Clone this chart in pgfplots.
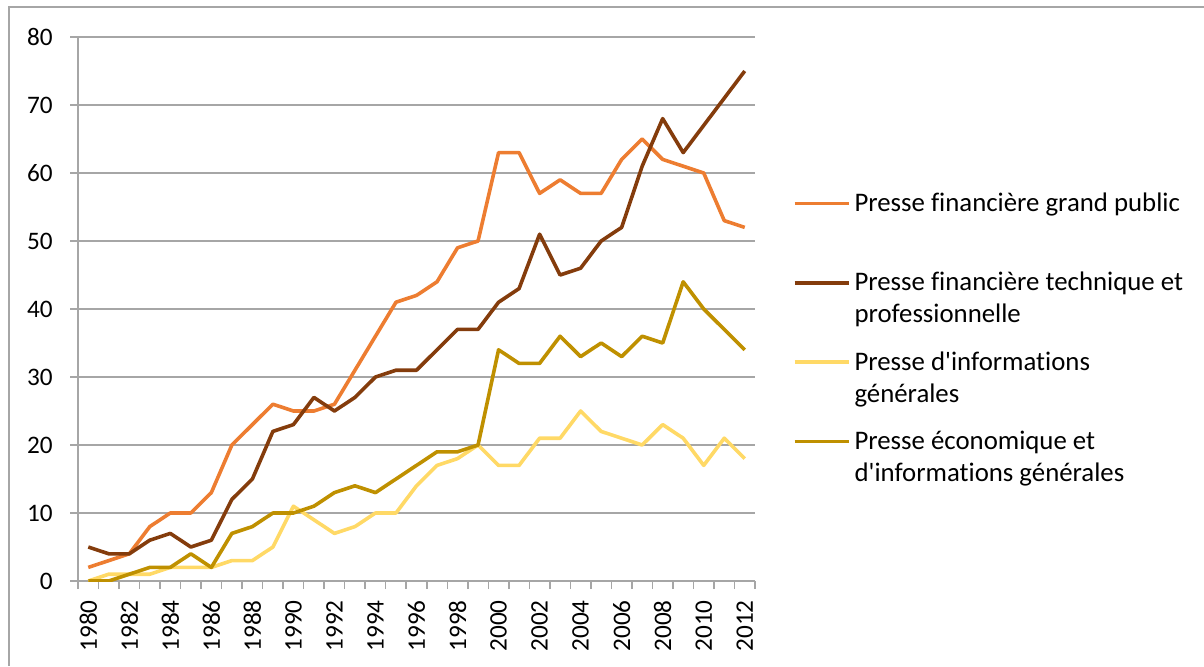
\documentclass[border=0pt]{standalone}
\usepackage{pgfplots}
\pgfplotsset{compat=1.18}
\usepackage{pgfplotstable}
\usepackage{fontspec}
\setmainfont{Carlito}
\newfontfamily\carlito{Carlito}[Ligatures=NoCommon]
\definecolor{cOrange}{HTML}{ED7D31}
\definecolor{cBrown}{HTML}{843C0C}
\definecolor{cYellow}{HTML}{FFD966}
\definecolor{cGold}{HTML}{BF9000}
\definecolor{cGrid}{HTML}{A6A6A6}
\definecolor{cFrame}{HTML}{A6A6A6}
\newcommand{\two}[2]{\vtop{\hbox{#1}\hbox{#2}}}

\pgfplotstableread{
year grand tech info eco
1980 2 5 0 0
1981 3 4 1 0
1982 4 4 1 1
1983 8 6 1 2
1984 10 7 2 2
1985 10 5 2 4
1986 13 6 2 2
1987 20 12 3 7
1988 23 15 3 8
1989 26 22 5 10
1990 25 23 11 10
1991 25 27 9 11
1992 26 25 7 13
1993 31 27 8 14
1994 36 30 10 13
1995 41 31 10 15
1996 42 31 14 17
1997 44 34 17 19
1998 49 37 18 19
1999 50 37 20 20
2000 63 41 17 34
2001 63 43 17 32
2002 57 51 21 32
2003 59 45 21 36
2004 57 46 25 33
2005 57 50 22 35
2006 62 52 21 33
2007 65 61 20 36
2008 62 68 23 35
2009 61 63 21 44
2010 60 67 17 40
2011 53 71 21 37
2012 52 75 18 34
}\datatable

\begin{document}
\carlito\fontsize{12.6}{16}\selectfont
\begin{tikzpicture}
\useasboundingbox (0,0) rectangle (602pt,333pt);
\draw[cFrame, line width=0.75pt] (4.5pt,0) -- (4.5pt,329.5pt) -- (602pt,329.5pt);
\begin{axis}[
  at={(39pt,42.5pt)}, anchor=south west,
  scale only axis,
  width=338.5pt, height=272pt,
  xmin=1979.5, xmax=2012.5,
  ymin=0, ymax=80,
  axis x line*=bottom, axis y line*=left,
  axis line style={-, draw=cGrid, line width=0.75pt},
  ytick={0,10,...,80},
  ymajorgrids,
  grid style={cGrid, line width=0.75pt},
  tick align=outside,
  major tick length=4pt,
  tick style={cGrid, line width=0.75pt},
  xtick={1979.5,1980.5,...,2012.5},
  xticklabels={},
  extra x ticks={1980,1982,...,2012},
  extra x tick labels={1980,1982,1984,1986,1988,1990,1992,1994,1996,1998,2000,2002,2004,2006,2008,2010,2012},
  extra x tick style={major tick length=0pt, tick style={draw=none},
     xticklabel style={yshift=-9.5pt, rotate=90, anchor=east, inner sep=0pt}},
  yticklabel style={anchor=east, inner sep=0pt, xshift=-8.5pt},
  /pgf/number format/assume math mode=true,
  /pgf/number format/1000 sep={},
  legend style={draw=none, fill=none, at={(1.056,0.721)}, anchor=north west,
     inner sep=0pt, outer sep=0pt, row sep=24.5pt, column sep=0pt,
     cells={anchor=base west, inner sep=0pt},
     font=\carlito\fontsize{13.4}{16}\selectfont},
  legend image code/.code={\draw[#1] (0pt,4pt) -- (27pt,4pt);},
  every axis plot/.append style={line width=1.8pt, line join=round},
]
\addplot[cOrange] table[x=year,y=grand] {\datatable};
\addlegendentry{\two{Presse financière grand public}{}}
\addplot[cBrown] table[x=year,y=tech] {\datatable};
\addlegendentry{\two{Presse financière technique et}{professionnelle}}
\addplot[cYellow] table[x=year,y=info] {\datatable};
\addlegendentry{\two{Presse d'informations}{générales}}
\addplot[cGold] table[x=year,y=eco] {\datatable};
\addlegendentry{\two{Presse économique et}{d'informations générales}}
\end{axis}
\end{tikzpicture}
\end{document}
